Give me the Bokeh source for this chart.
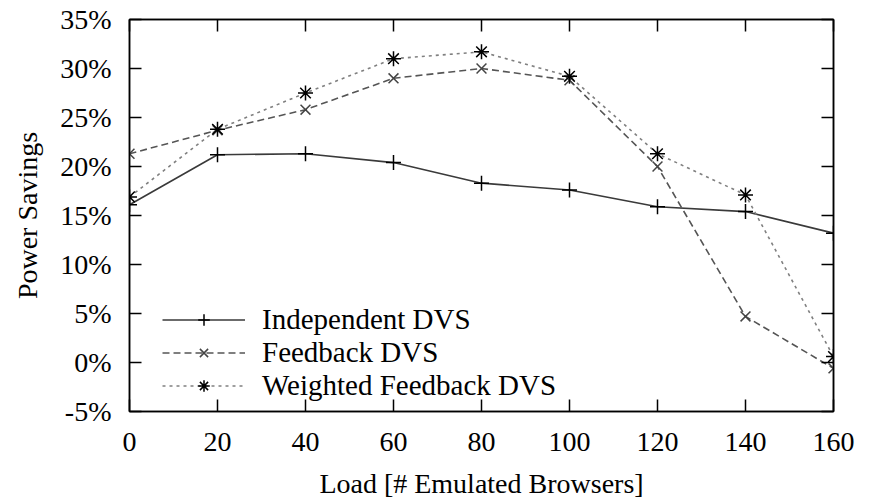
from bokeh.plotting import figure
from bokeh.models import (LinearAxis, FixedTicker, PrintfTickFormatter, Range1d,
                          Legend, LegendItem, CustomLabelingPolicy)
from bokeh.embed import file_html
from bokeh.resources import INLINE

# Data
load = [0, 20, 40, 60, 80, 100, 120, 140, 160]
independent_dvs = [16.1, 21.2, 21.3, 20.4, 18.3, 17.6, 15.9, 15.4, 13.2]
feedback_dvs = [21.3, 23.7, 25.8, 29.0, 30.0, 28.8, 20.0, 4.7, -0.6]
weighted_feedback_dvs = [16.9, 23.8, 27.5, 31.0, 31.7, 29.2, 21.3, 17.1, 0.6]

x_ticks = [0, 20, 40, 60, 80, 100, 120, 140, 160]
y_ticks = [-5, 0, 5, 10, 15, 20, 25, 30, 35]

FONT = "Liberation Serif"

p = figure(frame_width=704, frame_height=392,
           min_border_left=129, min_border_top=19,
           min_border_right=45, min_border_bottom=90,
           x_range=Range1d(0, 160), y_range=Range1d(-5, 35),
           output_backend="svg", toolbar_location=None,
           x_axis_label="Load [# Emulated Browsers]",
           y_axis_label="Power Savings")

p.xgrid.visible = False
p.ygrid.visible = False
p.outline_line_color = "black"
p.outline_line_width = 1.5
p.background_fill_color = "white"
p.border_fill_color = "white"

for ax in p.xaxis:
    ax.ticker = FixedTicker(ticks=x_ticks)
for ax in p.yaxis:
    ax.ticker = FixedTicker(ticks=y_ticks)
    ax.formatter = PrintfTickFormatter(format="%d%%")

for ax in list(p.xaxis) + list(p.yaxis):
    ax.major_tick_in = 12
    ax.major_tick_out = 0
    ax.minor_tick_line_color = None
    ax.axis_line_color = "black"
    ax.axis_line_width = 1.5
    ax.major_tick_line_color = "black"
    ax.major_tick_line_width = 1.5
    ax.major_label_text_font = FONT
    ax.major_label_text_font_size = "28px"
    ax.major_label_text_color = "black"
    ax.axis_label_text_font = FONT
    ax.axis_label_text_font_size = "28px"
    ax.axis_label_text_font_style = "normal"
    ax.axis_label_text_color = "black"

p.xaxis.major_label_standoff = 21
p.xaxis.axis_label_standoff = 14
p.yaxis.major_label_standoff = 18
p.yaxis.axis_label_standoff = 14

# mirrored axes (top / right) with inward ticks and no labels
no_labels = "const all = [...indices]; for (const i of all) indices.unset(i); return indices"
top = LinearAxis(ticker=FixedTicker(ticks=x_ticks),
                 major_label_policy=CustomLabelingPolicy(code=no_labels),
                 major_label_standoff=0, major_tick_in=12, major_tick_out=0,
                 minor_tick_line_color=None, axis_line_width=1.5,
                 major_tick_line_width=1.5)
right = LinearAxis(ticker=FixedTicker(ticks=y_ticks),
                   major_label_policy=CustomLabelingPolicy(code=no_labels),
                   major_label_standoff=0, major_tick_in=12, major_tick_out=0,
                   minor_tick_line_color=None, axis_line_width=1.5,
                   major_tick_line_width=1.5)
p.add_layout(top, "above")
p.add_layout(right, "right")

l1 = p.line(load, independent_dvs, line_color="#3a3a3a", line_width=1.6)
m1 = p.scatter(load, independent_dvs, marker="cross", size=15,
               line_color="black", line_width=1.5)
l2 = p.line(load, feedback_dvs, line_color="#555555", line_width=1.6, line_dash="7 4")
m2 = p.scatter(load, feedback_dvs, marker="x", size=14,
               line_color="#444444", line_width=1.5)
l3 = p.line(load, weighted_feedback_dvs, line_color="#808080", line_width=1.6,
            line_dash="3 4")
m3 = p.scatter(load, weighted_feedback_dvs, marker="asterisk", size=15,
               line_color="black", line_width=1.5)

legend = Legend(items=[
    LegendItem(label="Independent DVS", renderers=[l1, m1]),
    LegendItem(label="Feedback DVS", renderers=[l2, m2]),
    LegendItem(label="Weighted Feedback DVS", renderers=[l3, m3]),
], location=(33, 9))
legend.margin = 0
legend.padding = 0
legend.spacing = 0
legend.glyph_width = 83
legend.glyph_height = 29
legend.label_height = 29
legend.label_standoff = 17
legend.label_text_font = FONT
legend.label_text_font_size = "29px"
legend.label_text_color = "black"
legend.background_fill_alpha = 0
legend.border_line_color = None
p.add_layout(legend, "center")

open("out.html", "w").write(file_html(p, INLINE))
